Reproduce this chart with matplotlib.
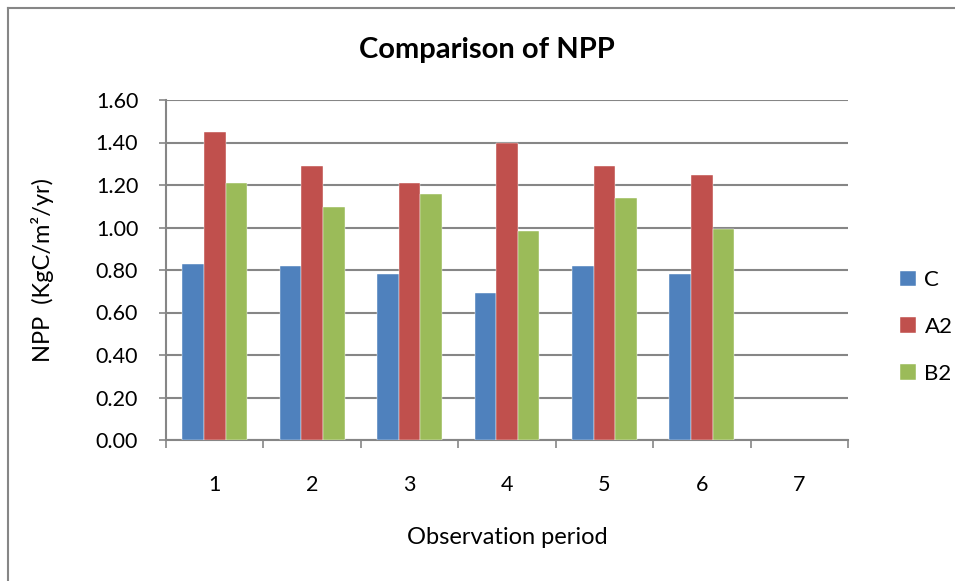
import numpy as np
import matplotlib.pyplot as plt
from matplotlib.lines import Line2D

plt.rcParams['font.family'] = ['Lato', 'DejaVu Sans']

# data
periods = ['1', '2', '3', '4', '5', '6', '7']
npp_C = [0.83, 0.82, 0.78, 0.69, 0.82, 0.78]
npp_A2 = [1.45, 1.29, 1.21, 1.40, 1.29, 1.245]
npp_B2 = [1.21, 1.095, 1.16, 0.985, 1.14, 0.995]
series_names = ['C', 'A2', 'B2']
colors = ['#4F81BD', '#C0504D', '#9BBB59']
yticks = [0.0, 0.2, 0.4, 0.6, 0.8, 1.0, 1.2, 1.4, 1.6]

grid_col = '#868686'

fig = plt.figure(figsize=(9.55, 5.81), dpi=100)
ax = fig.add_axes([166/955, 1-440/581, (848-166)/955, 340/581])

w = 1/4.5
x = np.arange(len(npp_C))
for i, (vals, name, c) in enumerate(zip([npp_C, npp_A2, npp_B2], series_names, colors)):
    ax.bar(x + (i-1)*w, vals, width=w, color=c, label=name, zorder=3,
           edgecolor='white', linewidth=0.3)

ax.set_xlim(-0.5, len(periods)-0.5)
ax.set_ylim(0, 1.6)
ax.set_yticks(yticks)
ax.set_yticklabels(['%.2f' % v for v in yticks], fontsize=15.5)
ax.yaxis.grid(True, color=grid_col, linewidth=1.5, zorder=0)
ax.tick_params(axis='y', direction='out', length=5, width=1.2, color=grid_col, pad=15)

ax.set_xticks(np.arange(len(periods)))
ax.set_xticklabels(periods, fontsize=15.5)
ax.tick_params(axis='x', which='major', length=0, pad=25)
ax.set_xticks(np.arange(len(periods)+1) - 0.5, minor=True)
ax.tick_params(axis='x', which='minor', direction='out', length=6, width=1.2, color=grid_col)

for s in ['top', 'right']:
    ax.spines[s].set_visible(False)
for s in ['left', 'bottom']:
    ax.spines[s].set_color(grid_col)
    ax.spines[s].set_linewidth(1.5)

ax.set_xlabel('Observation period', fontsize=17, labelpad=23)
ax.set_ylabel('NPP  (KgC/m²/yr)', fontsize=17, labelpad=30)
fig.text(487/955, 1-50/581, 'Comparison of NPP', ha='center', va='center',
         fontsize=21, fontweight='bold')

fig.legend(loc='center left', bbox_to_anchor=(880/955, 1-327/581), frameon=False,
           fontsize=16, handlelength=0.7, handleheight=0.7, handletextpad=0.4,
           labelspacing=1.2)

# chart area border (top and left visible)
fig.add_artist(Line2D([8/955, 1], [1-8/581, 1-8/581], color=grid_col, lw=1.5,
                      transform=fig.transFigure))
fig.add_artist(Line2D([8/955, 8/955], [0, 1-8/581], color=grid_col, lw=1.5,
                      transform=fig.transFigure))

fig.savefig('out.png', dpi=100)
